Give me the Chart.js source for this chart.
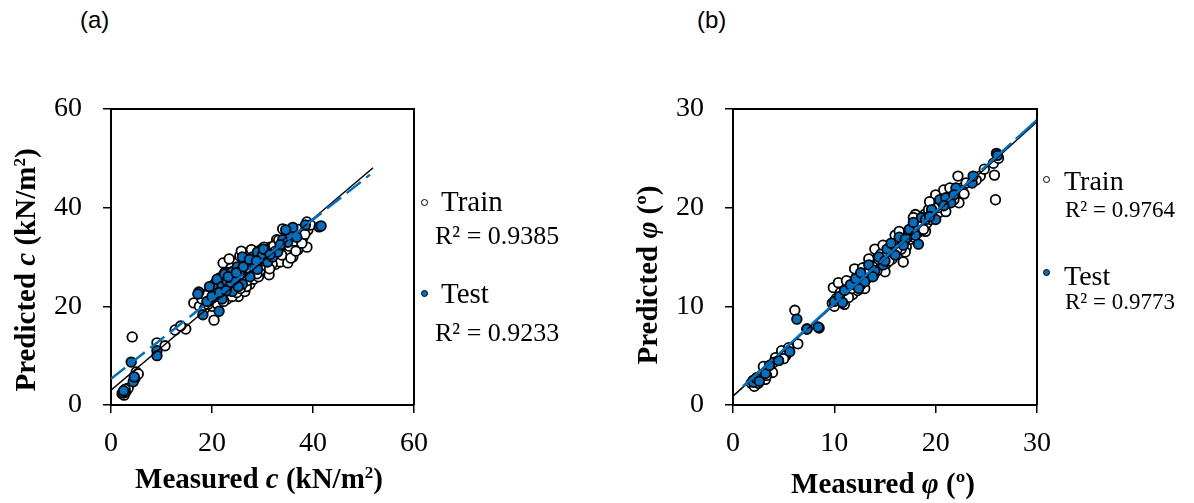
<!DOCTYPE html>
<html>
<head>
<meta charset="utf-8">
<script src="https://cdn.jsdelivr.net/npm/chart.js@4.4.1/dist/chart.umd.min.js"></script>
<style>
  body { margin: 0; background: #fff; width: 1194px; height: 503px; position: relative; overflow: hidden; }
  canvas { position: absolute; top: 0; }
  #chartA { left: 0; }
  #chartB { left: 600px; }
  .tag { position: absolute; font-family: 'Liberation Sans', Arial, sans-serif; font-size: 24px; line-height: 1; color: #000; }
  .lg { position: absolute; font-family: 'Liberation Serif', 'Times New Roman', serif; color: #000; white-space: nowrap; line-height: 1; }
  .mk { position: absolute; width: 7px; height: 7px; border: 1.6px solid #000; border-radius: 50%; box-sizing: border-box; }
</style>
</head>
<body>
<div class="tag" style="left:80px;top:8px">(a)</div>
<div class="tag" style="left:697px;top:8px">(b)</div>
<canvas id="chartA" width="600" height="503"></canvas>
<canvas id="chartB" width="594" height="503"></canvas>

<div class="mk" style="left:421px;top:199px;background:#fff"></div>
<div class="lg" style="left:441px;top:187px;font-size:29px">Train</div>
<div class="lg" style="left:435px;top:223px;font-size:26px">R² = 0.9385</div>
<div class="mk" style="left:421px;top:290px;background:#0070C0"></div>
<div class="lg" style="left:441px;top:279px;font-size:29px">Test</div>
<div class="lg" style="left:435px;top:320px;font-size:26px">R² = 0.9233</div>

<div class="mk" style="left:1043px;top:176px;background:#fff"></div>
<div class="lg" style="left:1064px;top:167px;font-size:28px">Train</div>
<div class="lg" style="left:1065px;top:198px;font-size:23px">R² = 0.9764</div>
<div class="mk" style="left:1043px;top:269px;background:#0070C0"></div>
<div class="lg" style="left:1064px;top:262px;font-size:28px">Test</div>
<div class="lg" style="left:1065px;top:290px;font-size:23px">R² = 0.9773</div>

<script>
// (a) cohesion c, kN/m2 : [measured, predicted]
const trainA = [
  [2.2,2.3],[2.6,2.0],[3.0,2.8],[3.4,3.4],[2.8,3.2],[4.8,5.5],[5.0,6.7],[5.4,6.3],[4.2,13.8],
  [9.1,12.6],[10.7,12.0],[12.7,15.2],[14.8,15.4],[13.8,16.0],
  [16.4,20.7],[17.5,20.0],[18.0,21.5],[18.5,19.5],[19.0,22.5],[19.5,21.0],[20.0,20.0],[20.4,17.2],
  [20.5,23.5],[21.0,22.0],[21.5,24.0],[21.8,21.5],[22.2,28.8],[22.5,23.0],[22.8,25.5],[23.0,21.5],
  [23.3,24.5],[23.5,26.5],[23.8,22.8],[24.0,25.0],[24.2,27.5],[24.5,23.5],[24.7,26.0],[25.0,28.5],
  [25.2,22.0],[25.5,24.5],[25.7,27.0],[26.0,29.5],[26.2,25.5],[26.5,23.0],[26.7,28.0],[27.0,26.5],
  [27.2,30.0],[27.5,24.5],[27.7,27.5],[28.0,29.0],[28.2,25.5],[28.5,31.0],[28.7,27.0],[29.0,28.5],
  [29.2,26.0],[29.5,30.0],[29.7,31.5],[30.0,27.5],[30.2,29.0],[30.5,31.0],[30.8,28.0],[31.0,30.5],
  [31.3,26.4],[31.5,32.0],[31.8,29.5],[32.0,31.0],[32.3,30.0],[32.5,28.5],[33.0,32.5],[33.3,30.5],
  [33.5,29.0],[34.0,35.7],[34.0,31.5],[34.5,33.0],[35.0,28.8],[35.0,31.0],[35.5,34.0],[35.8,32.5],
  [36.0,30.0],[36.5,35.0],[36.8,33.5],[37.0,31.5],[37.5,34.5],[38.0,33.9],[38.8,32.0],[38.8,37.1],
  [39.0,35.5],[39.5,36.5],[22.0,25.0],[23.0,23.0],[24.0,22.0],[25.0,25.5],[26.0,27.0],[27.0,28.0],
  [28.0,27.0],[29.0,29.5],[30.0,30.0],[21.0,20.5],[19.8,23.8],[22.5,26.8],[26.8,24.0],[24.5,28.8],
  [27.8,31.5],[30.5,29.8],[32.8,33.5],[25.5,30.2],[23.8,27.8],[29.5,27.2],
  [21.2,23.2],[21.6,25.8],[22.3,21.0],[22.7,24.2],[23.1,26.8],[23.6,23.4],[24.1,24.2],[24.4,26.6],
  [24.9,22.8],[25.3,26.2],[25.6,23.6],[25.9,28.2],[26.3,26.4],[26.6,27.2],[26.9,25.2],[27.3,29.2],
  [27.6,26.8],[27.9,28.4],[28.3,28.0],[28.6,29.8],[28.9,26.6],[29.3,30.8],[29.6,28.2],[29.9,29.2],
  [30.3,32.0],[30.6,30.2],[30.9,29.6],[31.2,31.4],[31.6,30.6],[31.9,28.6],[32.2,32.2],[32.6,31.2],
  [33.2,33.4],[33.8,30.4],[34.2,32.4],[34.8,34.4],[35.3,32.2],[35.6,29.8],[36.2,33.2],[36.6,31.2],
  [37.2,35.6],[37.8,32.8],[38.4,34.6],[20.2,21.8],[19.2,20.4],[18.8,22.2],[21.4,24.6],[25.8,31.2],
  [23.4,29.6],[31.4,27.6]
];
const testA = [
  [2.4,2.4],[2.8,2.6],[2.5,2.9],[4.4,4.7],[4.6,5.7],[4.0,8.7],[9.1,11.0],[9.1,10.0],
  [17.4,22.9],[17.2,22.5],[18.2,18.3],[21.4,19.0],[19.0,21.0],[20.0,22.0],[20.5,24.5],[21.0,25.5],
  [22.0,24.0],[22.5,26.5],[23.0,25.0],[23.5,24.0],[24.0,27.0],[24.5,25.5],[25.0,28.0],[25.5,27.0],
  [26.0,24.5],[26.5,29.0],[27.0,28.5],[27.5,26.0],[28.0,30.0],[28.5,28.5],[29.0,31.0],[29.5,29.5],
  [30.0,30.5],[30.5,31.5],[31.0,29.0],[32.0,30.0],[33.0,31.0],[34.0,33.5],[35.0,33.0],[35.5,34.5],
  [36.0,36.0],[38.5,36.5],[41.2,36.1],[41.6,36.3],[22.0,21.5],[19.5,24.0],[26.0,30.0],[29.0,27.5],
  [24.0,23.0],[21.5,22.8],[23.2,26.0],[24.8,26.8],[26.2,28.0],[27.4,29.5],[28.8,29.2],[30.2,31.6],
  [31.5,30.5],[33.5,32.5],[25.2,24.0],[22.8,23.2],[36.8,34.0],[34.6,35.5]
];
const fitTrainA = [[0,3.0],[51.9,48.1]];
const fitTestA = [[0,5.3],[51.3,46.7]];

// (b) friction angle phi, degrees : [measured, predicted]
const trainB = [
  [1.8,2.2],[2.0,2.5],[2.2,2.0],[2.4,2.8],[2.6,2.4],[2.8,3.0],[3.0,3.9],[3.2,2.6],[3.5,3.5],[3.9,3.3],
  [4.2,4.8],[4.8,5.5],[5.2,5.0],[5.5,5.8],[6.1,9.6],[6.4,6.2],[7.3,7.7],[9.8,10.3],[9.9,11.9],[10.4,12.4],
  [10.2,10.8],[10.8,11.0],[11.0,10.2],[11.3,11.8],[11.5,12.5],[11.8,11.2],[12.0,12.2],[12.2,13.0],
  [12.5,12.0],[12.7,13.5],[12.9,12.6],[13.1,14.0],[13.3,12.9],[13.5,13.6],[13.7,14.5],[13.9,13.2],
  [14.1,14.2],[14.3,15.0],[14.5,13.9],[14.7,14.8],[14.9,15.6],[15.1,14.3],[15.3,15.2],[15.5,16.0],
  [15.7,14.8],[15.9,15.7],[16.1,16.5],[16.3,15.3],[16.5,16.2],[16.8,14.5],[16.9,17.0],[17.1,16.0],
  [17.3,17.6],[17.5,16.8],[17.7,18.0],[17.9,17.0],[18.1,18.5],[18.3,17.5],[18.5,18.9],[18.7,18.0],
  [18.9,19.3],[19.1,18.4],[19.3,19.8],[19.5,18.8],[19.7,20.2],[19.9,19.2],[20.1,20.7],[20.3,19.5],
  [20.5,21.0],[20.7,20.0],[21.0,21.5],[21.3,20.5],[21.6,21.8],[22.0,21.0],[22.2,23.2],[22.3,20.5],
  [22.6,22.0],[23.0,22.5],[24.4,23.2],[25.7,24.5],[25.8,23.3],[25.9,20.8],[26.2,25.0],[12.0,13.8],
  [13.0,11.8],[14.0,15.8],[15.0,13.5],[16.0,17.2],[17.0,15.5],[18.0,19.3],[19.0,17.6],[20.0,21.3],
  [21.0,19.6],[15.6,15.5],[14.4,14.4],[13.6,13.3],[12.3,11.6],[16.6,15.8],
  [10.6,11.4],[11.2,12.6],[11.7,11.8],[12.4,12.8],[12.8,13.9],[13.2,13.4],[13.8,14.0],[14.2,13.6],
  [14.6,15.3],[15.0,15.0],[15.4,14.6],[15.8,16.3],[16.2,15.8],[16.7,16.8],[17.2,17.0],[17.6,17.6],
  [18.0,18.0],[18.4,18.6],[18.8,17.8],[19.2,19.0],[19.6,19.4],[20.2,20.0],[20.6,20.6],[21.2,21.2],
  [21.8,20.8],[22.4,21.6],[19.4,20.6],[17.8,19.0],[16.4,17.6],[14.8,16.2],[13.4,14.8],[12.6,12.2],
  [20.8,21.8],[21.4,22.0],[2.1,1.9],[2.5,2.2],[3.3,3.0],[4.0,4.3],[5.0,4.7],[10.0,10.0],[11.4,10.9],
  [22.8,21.4],[24.0,22.8],[24.8,23.9]
];
const testB = [
  [2.0,2.3],[2.3,2.7],[3.2,3.2],[3.6,4.0],[4.5,4.5],[5.6,5.4],[6.3,8.7],[7.3,7.7],[8.5,7.8],[8.4,7.9],
  [10.0,10.5],[10.5,11.0],[11.0,11.6],[11.6,12.2],[12.1,12.8],[12.6,13.4],[13.0,12.5],[13.4,14.2],
  [14.0,13.6],[14.4,15.0],[14.8,14.2],[15.2,15.8],[15.6,16.4],[16.0,15.2],[16.4,17.0],[17.0,16.8],
  [17.4,17.8],[18.0,17.2],[18.3,16.3],[18.6,19.0],[19.0,18.8],[19.6,19.8],[20.0,18.8],[20.4,20.8],
  [21.0,21.0],[21.5,20.5],[22.0,22.0],[23.6,22.5],[23.7,23.2],[26.0,25.5],[26.1,25.3],
  [10.8,10.4],[12.4,11.8],[13.8,13.0],[15.0,14.6],[16.8,16.2],[17.8,18.5],[19.4,19.1],[20.8,20.2],
  [21.8,21.3],[2.6,2.4]
];
const fitTrainB = [[0,0.9],[30,28.7]];
const fitTestB = [[1,1.9],[30,28.9]];

const BLUE = '#0070C0';
const SERIF = "'Liberation Serif', 'Times New Roman', serif";

const toXY = arr => arr.map(p => ({ x: p[0], y: p[1] }));

function drawRich(ctx, parts, cx, cy, rot) {
    ctx.save();
    ctx.translate(cx, cy);
    ctx.rotate(rot);
    ctx.fillStyle = '#000';
    ctx.textAlign = 'left';
    ctx.textBaseline = 'alphabetic';
    let w = 0;
    parts.forEach(p => { ctx.font = p.font; w += ctx.measureText(p.text).width; });
    let x = -w / 2;
    parts.forEach(p => {
        ctx.font = p.font;
        ctx.fillText(p.text, x, p.dy || 0);
        x += ctx.measureText(p.text).width;
    });
    ctx.restore();
}

// frame on top/right + rich axis titles
const framePlugin = {
    id: 'frameTitles',
    afterDraw(chart, args, opts) {
        const { ctx, chartArea: a } = chart;
        ctx.save();
        ctx.strokeStyle = '#000';
        ctx.lineWidth = 2;
        ctx.beginPath();
        ctx.moveTo(a.left, a.top);
        ctx.lineTo(a.right, a.top);
        ctx.lineTo(a.right, a.bottom);
        ctx.stroke();
        ctx.restore();
        drawRich(ctx, opts.xTitle, opts.xAt[0], opts.xAt[1], 0);
        drawRich(ctx, opts.yTitle, opts.yAt[0], opts.yAt[1], -Math.PI / 2);
    }
};

function makeChart(id, cfg) {
    const ctx = document.getElementById(id).getContext('2d');
    const tickFont = { family: SERIF, size: 28 };
    const pts = (data, bg, order) => ({
        data: toXY(data), backgroundColor: bg, borderColor: '#000', borderWidth: 1.8,
        pointRadius: 4.8, order: order
    });
    const fit = (data, color, width, dash) => ({
        data: toXY(data), showLine: true, pointRadius: 0, borderColor: color,
        borderWidth: width, borderDash: dash, order: 0
    });
    return new Chart(ctx, {
        type: 'scatter',
        data: {
            datasets: [
                fit(cfg.fitTest, BLUE, 2.5, cfg.dash),
                fit(cfg.fitTrain, '#000', 1.5, []),
                pts(cfg.test, BLUE, 1),
                pts(cfg.train, '#fff', 2)
            ]
        },
        options: {
            responsive: false,
            animation: false,
            layout: { padding: { top: 109, right: cfg.padRight, left: 0, bottom: 0 } },
            plugins: {
                legend: { display: false },
                tooltip: { enabled: false },
                frameTitles: {
                    xTitle: cfg.xTitle, xAt: cfg.xAt,
                    yTitle: cfg.yTitle, yAt: cfg.yAt
                }
            },
            scales: {
                x: {
                    type: 'linear', min: 0, max: cfg.max,
                    ticks: { stepSize: cfg.step, color: '#000', font: tickFont, padding: 14, maxRotation: 0 },
                    grid: { drawOnChartArea: false, tickLength: 8, color: '#000', lineWidth: 1.5 },
                    border: { color: '#000', width: 2 },
                    afterFit: s => { s.height = 98; }
                },
                y: {
                    type: 'linear', min: 0, max: cfg.max,
                    ticks: { stepSize: cfg.step, color: '#000', font: tickFont, padding: 21 },
                    grid: { drawOnChartArea: false, tickLength: 8, color: '#000', lineWidth: 1.5 },
                    border: { color: '#000', width: 2 },
                    afterFit: s => { s.width = cfg.yWidth; }
                }
            }
        },
        plugins: [framePlugin]
    });
}

const boldS = 'bold 29px ' + SERIF;
const italS = 'italic bold 29px ' + SERIF;
const supS = 'bold 17px ' + SERIF;

makeChart('chartA', {
    train: trainA, test: testA, fitTrain: fitTrainA, fitTest: fitTestA,
    max: 60, step: 20, padRight: 186, yWidth: 111, dash: [18, 7],
    xTitle: [
        { text: 'Measured ', font: boldS }, { text: 'c', font: italS },
        { text: ' (kN/m', font: boldS }, { text: '2', font: supS, dy: -10 },
        { text: ')', font: boldS }
    ],
    xAt: [259, 488],
    yTitle: [
        { text: 'Predicted ', font: boldS }, { text: 'c', font: italS },
        { text: ' (kN/m', font: boldS }, { text: '2', font: supS, dy: -10 },
        { text: ')', font: boldS }
    ],
    yAt: [35, 270]
});

makeChart('chartB', {
    train: trainB, test: testB, fitTrain: fitTrainB, fitTest: fitTestB,
    max: 30, step: 10, padRight: 157, yWidth: 133, dash: [40, 6],
    xTitle: [
        { text: 'Measured ', font: boldS }, { text: 'φ', font: italS },
        { text: ' (º)', font: boldS }
    ],
    xAt: [283, 493],
    yTitle: [
        { text: 'Predicted ', font: boldS }, { text: 'φ', font: italS },
        { text: ' (º)', font: boldS }
    ],
    yAt: [57, 275]
});
</script>
</body>
</html>
